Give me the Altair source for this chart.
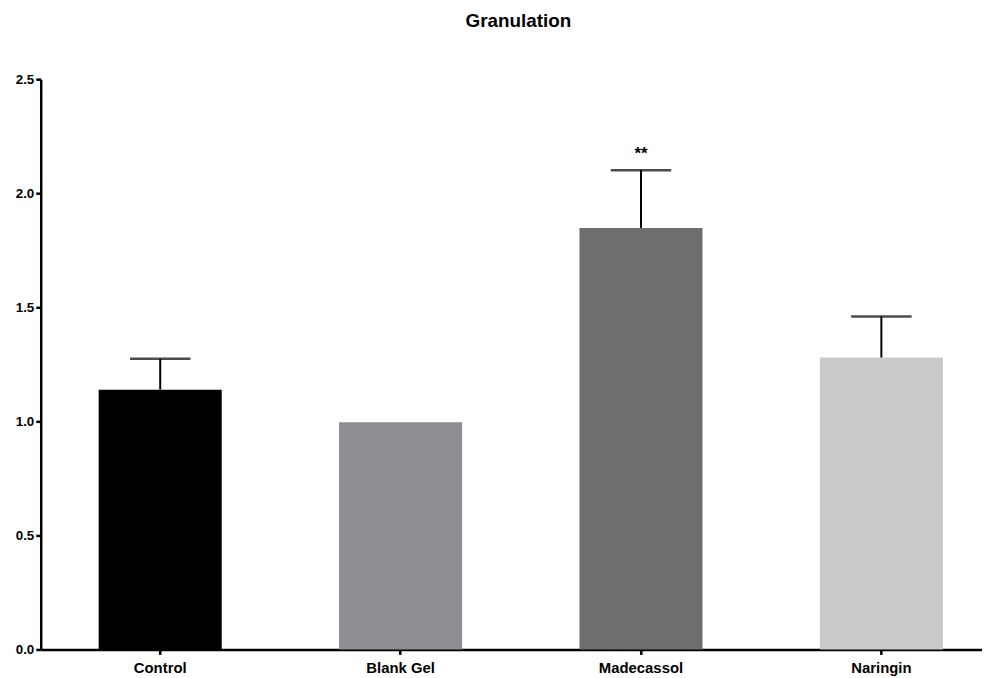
import altair as alt
import pandas as pd

groups = ["Control", "Blank Gel", "Madecassol", "Naringin"]
means = [1.139, 0.996, 1.848, 1.28]
errors = [0.135, 0.0, 0.253, 0.18]
colors = ["#000000", "#8e8d92", "#6e6e6e", "#cacaca"]
stars = ["", "", "**", ""]

df = pd.DataFrame({
    "group": groups,
    "mean": means,
    "err": errors,
    "color": colors,
    "star": stars,
})
df["upper"] = df["mean"] + df["err"]
err_df = df[df["err"] > 0]
star_df = df[df["star"] != ""]

FONT = "Liberation Sans"

x_enc = alt.X(
    "group:N",
    sort=groups,
    title=None,
    scale=alt.Scale(range=[0, 968], paddingInner=0.488, paddingOuter=0.241),
    axis=alt.Axis(labelAngle=0, labelFontWeight="bold", labelFontSize=15,
                  labelFont=FONT, labelColor="black", tickSize=5, tickWidth=2.5,
                  tickColor="black", domainColor="black", domainWidth=2.5,
                  labelPadding=6),
)
y_scale = alt.Scale(domain=[0, 2.5], nice=False)
y_axis = alt.Axis(values=[0, 0.5, 1.0, 1.5, 2.0, 2.5], format=".1f", grid=False,
                  labelFontWeight="bold", labelFontSize=13.5, labelFont=FONT,
                  labelColor="black", tickSize=5, tickWidth=2.5, tickColor="black",
                  domainColor="black", domainWidth=2.5, labelPadding=2)

bars = alt.Chart(df).mark_bar().encode(
    x=x_enc,
    y=alt.Y("mean:Q", scale=y_scale, axis=y_axis, title=None),
    color=alt.Color("color:N", scale=None),
)

rules = alt.Chart(err_df).mark_rule(color="black", strokeWidth=2).encode(
    x=alt.X("group:N", sort=groups),
    y="mean:Q",
    y2="upper:Q",
)

caps = alt.Chart(err_df).mark_tick(color="black", size=61, thickness=2.5,
                                    orient="horizontal").encode(
    x=alt.X("group:N", sort=groups),
    y="upper:Q",
)

star_text = alt.Chart(star_df).mark_text(font=FONT, fontSize=17, fontWeight="bold",
                                         color="black", dy=-16).encode(
    x=alt.X("group:N", sort=groups),
    y="upper:Q",
    text="star:N",
)

chart = alt.layer(bars, rules, caps, star_text).properties(
    width=949,
    height=575,
    title=alt.TitleParams("Granulation", font=FONT, fontSize=19, fontWeight="bold",
                          color="black", offset=42, dx=7),
    autosize=alt.AutoSizeParams(type="none"),
    padding={"left": 33, "top": 69, "right": 0, "bottom": 26},
).configure_view(stroke=None)

chart.save("out.html", embed_options={"renderer": "svg", "actions": False})
